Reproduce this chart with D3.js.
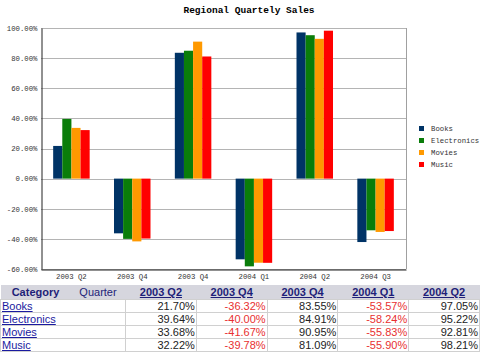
<!DOCTYPE html>
<html>
<head>
<meta charset="utf-8">
<script src="https://cdn.jsdelivr.net/npm/d3@7"></script>
<style>
body { margin: 0; background: #fff; }
#chart { display: block; }
#sales-table { position: absolute; left: 0; top: 285px; width: 480px; border-collapse: collapse;
  font-family: "Liberation Sans", Arial, sans-serif; font-size: 11px; }
#sales-table th { background: #d6d6de; color: #1e1e78; height: 14px; padding: 0 2px; }
#sales-table td { border: 1px solid #d0d0d0; height: 12px; padding: 0 1px; text-align: right; line-height: 12px; color: #222; }
#sales-table td.name { text-align: left; }
#sales-table a { color: #1a1aa0; text-decoration: underline; }
#sales-table th a { color: #1e1e78; }
#sales-table td.neg { color: #e83030; }
</style>
</head>
<body>
<svg id="chart"></svg>
<table id="sales-table"></table>
<script>
//chart size
const c_width = 480;
const c_height = 284;

//data
const quarters = ["2003 Q2", "2003 Q4", "2003 Q4", "2004 Q1", "2004 Q2", "2004 Q3"];
const categories = ["Books", "Electronics", "Movies", "Music"];
const books = [21.70, -36.32, 83.55, -53.57, 97.05, -42.1];
const electronics = [39.64, -40.00, 84.91, -58.24, 95.22, -34.3];
const movies = [33.68, -41.67, 90.95, -55.83, 92.81, -35.4];
const music = [32.22, -39.78, 81.09, -55.90, 98.21, -34.8];
const yTicks = [-60, -40, -20, 0, 20, 40, 60, 80, 100];
const colors = ["#003366", "#0a7d0a", "#ff9900", "#ff0000"];

//table columns (first five quarters)
const tableQuarters = ["2003 Q2", "2003 Q4", "2003 Q4", "2004 Q1", "2004 Q2"];

const series = [books, electronics, movies, music];

//percent format with a plain hyphen for negatives
const pct = v => v.toFixed(2) + "%";

//plot area
const pLeft = 41, pRight = 406, pTop = 28, pBottom = 269;

const svg = d3.select("#chart")
              .attr("width", c_width)
              .attr("height", c_height);

//title
svg.append("text")
   .attr("x", 249)
   .attr("y", 13)
   .attr("text-anchor", "middle")
   .style("font-family", "'Liberation Mono', monospace")
   .style("font-size", "9.5px")
   .style("font-weight", "bold")
   .text("Regional Quartely Sales");

//scales
const xScale = d3.scaleBand()
                 .domain(d3.range(quarters.length))
                 .range([pLeft, pRight])
                 .paddingInner(0.4)
                 .paddingOuter(0.2);

const xInner = d3.scaleBand()
                 .domain(d3.range(categories.length))
                 .range([0, xScale.bandwidth()]);

const yScale = d3.scaleLinear()
                 .domain([-60, 100])
                 .range([pBottom, pTop]);

//gridlines
svg.append("g")
   .selectAll("line")
   .data(yTicks)
   .enter()
   .append("line")
   .attr("x1", pLeft)
   .attr("x2", pRight)
   .attr("y1", d => Math.round(yScale(d)) + 0.5)
   .attr("y2", d => Math.round(yScale(d)) + 0.5)
   .attr("stroke", "#b4b4b4");

//right frame
svg.append("line")
   .attr("x1", pRight + 0.5).attr("x2", pRight + 0.5)
   .attr("y1", pTop).attr("y2", pBottom)
   .attr("stroke", "#a0a0a0");

//bars
const groups = svg.append("g")
                  .selectAll("g")
                  .data(series)
                  .enter()
                  .append("g")
                  .attr("fill", (d, i) => colors[i]);

groups.each(function(values, si){
	d3.select(this).selectAll("rect")
	  .data(values)
	  .enter()
	  .append("rect")
	  .attr("x", (d, i) => xScale(i) + xInner(si))
	  .attr("width", xInner.bandwidth())
	  .attr("y", d => yScale(Math.max(0, d)))
	  .attr("height", d => Math.abs(yScale(d) - yScale(0)));
});

//axes
const yAxis = d3.axisLeft(yScale)
                .tickValues(yTicks)
                .tickSize(0)
                .tickPadding(4)
                .tickFormat(pct);

const xAxis = d3.axisBottom(xScale)
                .tickSize(0)
                .tickPadding(4)
                .tickFormat(i => quarters[i]);

svg.append("g")
   .attr("transform", "translate(" + (pLeft + 0.5) + ",0)")
   .call(yAxis)
   .call(g => g.select(".domain").attr("stroke", "#222"));

svg.append("g")
   .attr("transform", "translate(0," + (pBottom + 0.5) + ")")
   .call(xAxis)
   .call(g => g.select(".domain").attr("stroke", "#222"));

svg.selectAll(".tick text")
   .style("font-family", "'Liberation Mono', monospace")
   .style("font-size", "7.3px")
   .attr("fill", "#333");

//legend
const legend = svg.append("g")
                  .selectAll("g")
                  .data(categories)
                  .enter()
                  .append("g")
                  .attr("transform", (d, i) => "translate(419," + (126 + i * 12) + ")");

legend.append("rect")
      .attr("width", 5)
      .attr("height", 5)
      .attr("fill", (d, i) => colors[i]);

legend.append("text")
      .attr("x", 12)
      .attr("y", 5)
      .style("font-family", "'Liberation Mono', monospace")
      .style("font-size", "7.3px")
      .attr("fill", "#333")
      .text(d => d);

//table
const table = d3.select("#sales-table");
const head = table.append("tr");
head.append("th").style("width", "66px").text("Category");
head.append("th").style("font-weight", "normal").style("width", "51px").text("Quarter");
tableQuarters.forEach(q => head.append("th").append("a").text(q));

categories.forEach((cat, ci) => {
	const row = table.append("tr");
	row.append("td").attr("class", "name").attr("colspan", 2).append("a").text(cat);
	tableQuarters.forEach((q, qi) => {
		const v = series[ci][qi];
		row.append("td")
		   .attr("class", v < 0 ? "neg" : null)
		   .text(pct(v));
	});
});
</script>
</body>
</html>
